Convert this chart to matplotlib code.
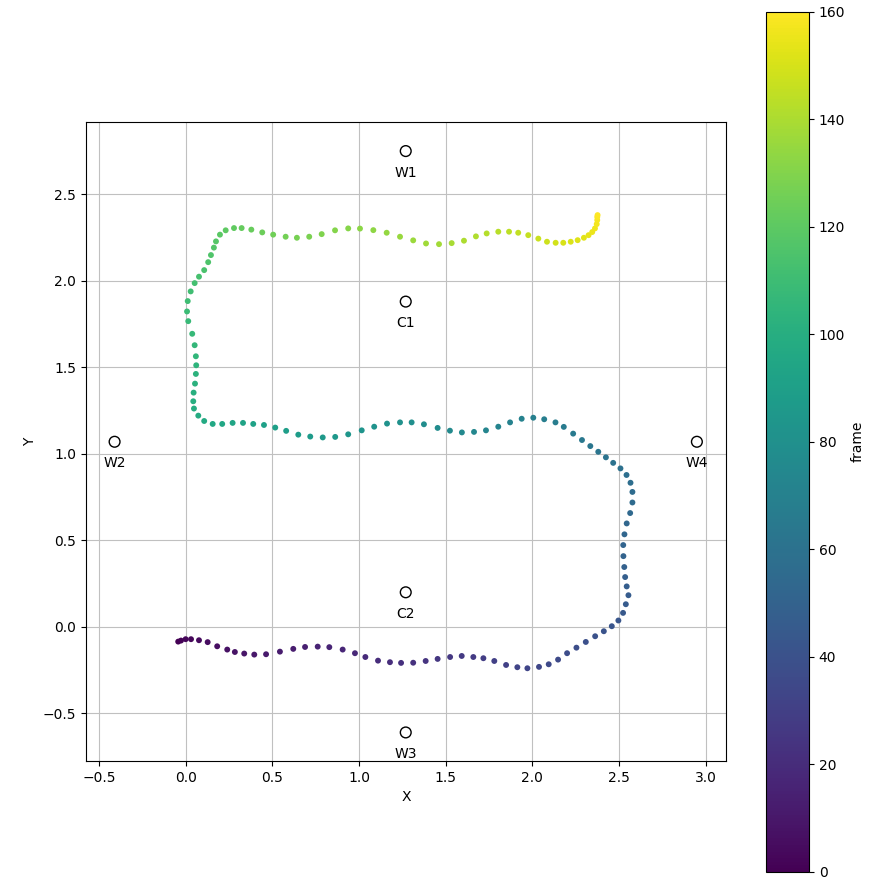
import numpy as np
import matplotlib
matplotlib.use("Agg")
import matplotlib.pyplot as plt

# Robot trajectory (metres), one sample per frame
traj_x = [
    -0.043, -0.027, 0.000, 0.031, 0.077, 0.127, 0.182, 0.240, 0.284,
    0.338, 0.396, 0.464, 0.544, 0.621, 0.689, 0.762, 0.829, 0.906, 0.977,
    1.037, 1.110, 1.179, 1.243, 1.313, 1.385, 1.454, 1.526, 1.593, 1.660,
    1.718, 1.781, 1.849, 1.914, 1.972, 2.039, 2.095, 2.149, 2.201, 2.255,
    2.309, 2.363, 2.413, 2.459, 2.497, 2.524, 2.540, 2.555, 2.545, 2.536,
    2.531, 2.526, 2.525, 2.532, 2.545, 2.565, 2.578, 2.578, 2.567, 2.544,
    2.509, 2.467, 2.425, 2.381, 2.335, 2.287, 2.236, 2.182, 2.134, 2.069,
    2.006, 1.939, 1.872, 1.804, 1.733, 1.664, 1.594, 1.525, 1.454, 1.375,
    1.304, 1.237, 1.162, 1.088, 1.016, 0.938, 0.863, 0.791, 0.719, 0.650,
    0.580, 0.517, 0.452, 0.390, 0.331, 0.271, 0.211, 0.156, 0.107, 0.073,
    0.048, 0.044, 0.046, 0.054, 0.059, 0.061, 0.059, 0.052, 0.038, 0.015,
    0.008, 0.012, 0.029, 0.052, 0.077, 0.107, 0.130, 0.146, 0.163, 0.175,
    0.198, 0.231, 0.279, 0.323, 0.379, 0.442, 0.505, 0.577, 0.642, 0.713,
    0.785, 0.862, 0.938, 1.006, 1.083, 1.160, 1.237, 1.313, 1.387, 1.462,
    1.535, 1.606, 1.675, 1.737, 1.804, 1.866, 1.919, 1.977, 2.035, 2.085,
    2.135, 2.179, 2.222, 2.262, 2.298, 2.325, 2.346, 2.362, 2.372, 2.375,
    2.375, 2.377,
]
traj_y = [
    -0.085, -0.079, -0.071, -0.071, -0.077, -0.088, -0.112, -0.131, -0.145,
    -0.154, -0.160, -0.158, -0.143, -0.127, -0.116, -0.114, -0.117, -0.131, -0.152,
    -0.174, -0.195, -0.204, -0.208, -0.207, -0.197, -0.185, -0.174, -0.168, -0.174,
    -0.181, -0.197, -0.220, -0.233, -0.239, -0.231, -0.216, -0.189, -0.152, -0.120,
    -0.087, -0.054, -0.025, 0.004, 0.037, 0.081, 0.131, 0.183, 0.234, 0.288,
    0.346, 0.409, 0.473, 0.535, 0.598, 0.658, 0.719, 0.780, 0.833, 0.878,
    0.916, 0.948, 0.980, 1.012, 1.045, 1.080, 1.117, 1.156, 1.182, 1.200,
    1.209, 1.203, 1.182, 1.157, 1.136, 1.127, 1.124, 1.134, 1.150, 1.171,
    1.182, 1.182, 1.175, 1.157, 1.136, 1.113, 1.098, 1.095, 1.100, 1.111,
    1.133, 1.152, 1.167, 1.173, 1.179, 1.179, 1.173, 1.173, 1.190, 1.221,
    1.262, 1.304, 1.354, 1.406, 1.462, 1.512, 1.564, 1.628, 1.694, 1.767,
    1.823, 1.883, 1.939, 1.987, 2.024, 2.062, 2.108, 2.149, 2.192, 2.228,
    2.267, 2.292, 2.305, 2.305, 2.296, 2.280, 2.267, 2.255, 2.249, 2.255,
    2.270, 2.292, 2.303, 2.302, 2.293, 2.278, 2.255, 2.234, 2.216, 2.212,
    2.218, 2.232, 2.257, 2.274, 2.284, 2.284, 2.278, 2.264, 2.244, 2.226,
    2.220, 2.220, 2.226, 2.235, 2.249, 2.264, 2.282, 2.303, 2.328, 2.351,
    2.369, 2.380,
]
frames = np.arange(len(traj_x))

# Reference landmarks
mark_names = ["W1", "W2", "W3", "W4", "C1", "C2"]
mark_x = [1.27, -0.41, 1.27, 2.95, 1.27, 1.27]
mark_y = [2.75, 1.07, -0.61, 1.07, 1.88, 0.20]

W, H = 873, 882
fig = plt.figure(figsize=(W / 100, H / 100), dpi=100)
ax = fig.add_axes([86 / W, (H - 761) / H, 640 / W, 639 / H])
cax = fig.add_axes([766 / W, (H - 871.7) / H, 43 / W, 860 / H])

ax.set_axisbelow(True)
ax.grid(True, color="#c0c0c0", linewidth=0.8)

sc = ax.scatter(traj_x, traj_y, c=frames, cmap="viridis", s=18,
                linewidths=0, zorder=3)

ax.scatter(mark_x, mark_y, s=60, facecolors="none", edgecolors="black",
           linewidths=1.0, zorder=4)
for name, mx, my in zip(mark_names, mark_x, mark_y):
    ax.annotate(name, (mx, my), xytext=(0, -15.5), textcoords="offset points",
                ha="center", va="center", fontsize=10)

ax.set_xlim(-0.575, 3.118)
ax.set_ylim(-0.775, 2.918)
ax.set_xticks([-0.5, 0.0, 0.5, 1.0, 1.5, 2.0, 2.5, 3.0])
ax.set_yticks([-0.5, 0.0, 0.5, 1.0, 1.5, 2.0, 2.5])
ax.set_xlabel("X")
ax.set_ylabel("Y")

cb = fig.colorbar(sc, cax=cax)
cb.set_label("frame")
cb.set_ticks([0, 20, 40, 60, 80, 100, 120, 140, 160])

fig.savefig("out.png", dpi=100)
